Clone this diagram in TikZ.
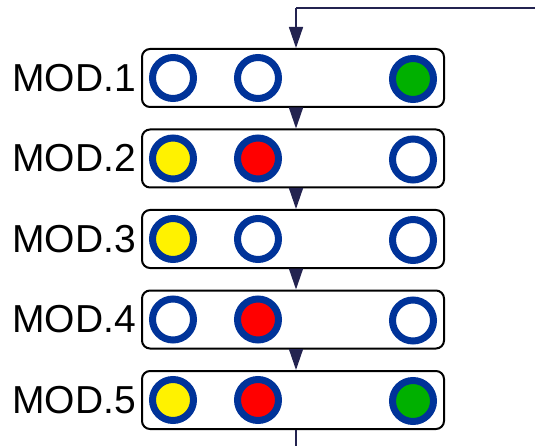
\documentclass[tikz,border=0pt]{standalone}
\usepackage{fontspec}
\setmainfont{Liberation Sans}
\usetikzlibrary{arrows.meta,positioning}

\definecolor{ringblue}{RGB}{0,51,153}
\definecolor{flownavy}{RGB}{35,35,80}
\definecolor{ledgreen}{RGB}{0,176,0}

\tikzset{
  modbox/.style={draw=black, line width=2pt, rounded corners=8pt,
    minimum width=302pt, minimum height=58pt, inner sep=0pt},
  led/.style={circle, draw=ringblue, line width=7pt, minimum size=41pt, inner sep=0pt, fill=#1},
  modlabel/.style={font=\fontsize{39}{42}\selectfont, anchor=east, inner sep=0pt},
  flow/.style={draw=flownavy, line width=1.5pt},
  flowtip/.style={-{Triangle[length=21pt,width=14pt]}, draw=flownavy, fill=flownavy, line width=1.5pt}
}

\begin{document}
\begin{tikzpicture}[x=1pt,y=-1pt]
  \useasboundingbox (0,0) rectangle (535,446);

  \foreach \i/\ca/\cb/\cc in {1/white/white/ledgreen, 2/yellow/red/white, 3/yellow/white/white,
                             4/white/red/white, 5/yellow/red/ledgreen} {
    \node[modbox] (mod\i) at (293,{78+80.5*(\i-1)}) {};
    \node[modlabel, left=5pt of mod\i] (lab\i) {MOD.\i};
    \node[led=\ca] (led\i a) at (173,{78+80.5*(\i-1)}) {};
    \node[led=\cb] (led\i b) at (258,{78+80.5*(\i-1)}) {};
    \node[led=\cc] (led\i c) at (413,{79+80.5*(\i-1)}) {};
  }

  % flow in, between and out
  \coordinate (inR) at (535,8);
  \coordinate (inL) at (296,8);
  \coordinate (out) at (296,446);
  \draw[flow] (inR) -- (inL);
  \draw[flowtip] (inL) -- (inL |- mod1.north);
  \foreach \i [evaluate=\i as \j using int(\i+1)] in {1,...,4}
    \draw[flowtip] (inL |- mod\i.south) -- (inL |- mod\j.north);
  \draw[flow] (inL |- mod5.south) -- (out);
\end{tikzpicture}
\end{document}
